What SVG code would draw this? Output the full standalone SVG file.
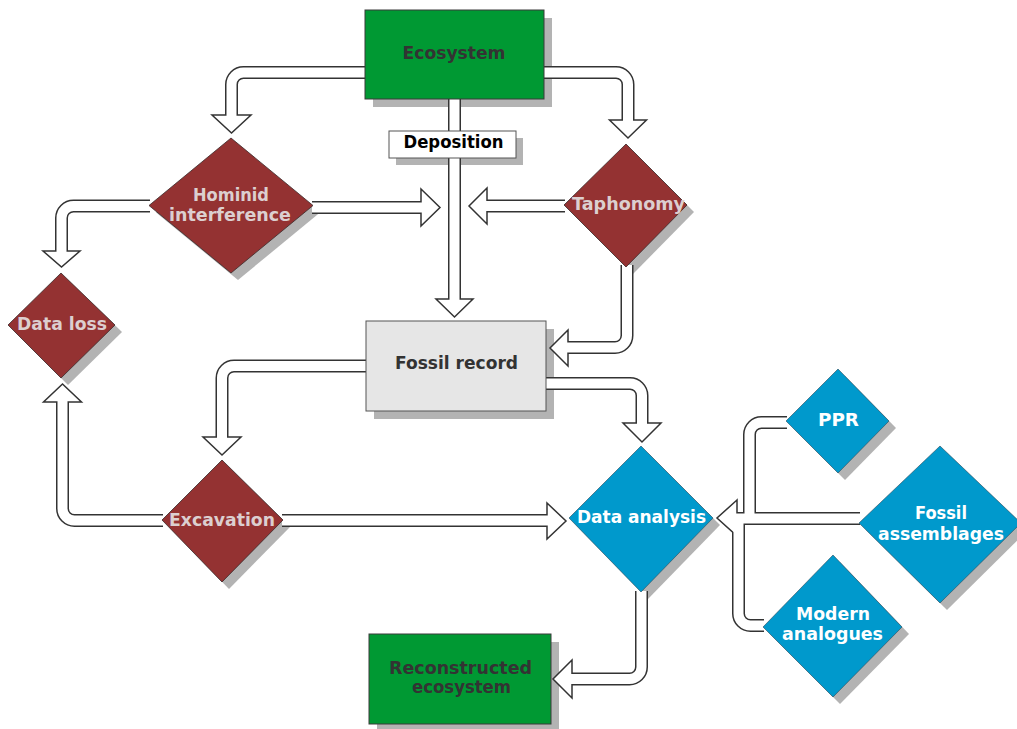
<svg xmlns="http://www.w3.org/2000/svg" width="1017" height="729" viewBox="0 0 1017 729">
<style>
text{font-family:"DejaVu Sans","Liberation Sans",sans-serif;font-weight:bold;font-size:18.5px;text-anchor:middle}
.sh{fill:#b3b3b3}
.grn{fill:#009933;stroke:#3a3a3a;stroke-width:1}
.gry{fill:#e6e6e6;stroke:#555;stroke-width:1}
.red{fill:#943232;stroke:#3a2a2a;stroke-width:0.8}
.blu{fill:#0099cc;stroke:#2a4a5a;stroke-width:0.6}
.dk{fill:#333}
.lt{fill:#dccfd0}
.wt{fill:#fff}
.o{fill:none;stroke:#333;stroke-width:13}
.i{fill:none;stroke:#fff;stroke-width:10}
.h{fill:#fff;stroke:#333;stroke-width:1.5;stroke-linejoin:miter}
</style>
<rect width="1017" height="729" fill="#fff"/>
<g id="shadows">
<rect class="sh" x="373" y="18" width="179" height="89"/>
<rect class="sh" x="396" y="138" width="127" height="27"/>
<rect class="sh" x="374" y="329" width="180" height="90"/>
<rect class="sh" x="377" y="642" width="182" height="90"/>
<polygon class="sh" points="238,145 320,212.5 238,280 156,212.5"/>
<polygon class="sh" points="68,280 122,332 68,385 15,332"/>
<polygon class="sh" points="633,151 694,212 633,274 571,212"/>
<polygon class="sh" points="229,467 290,527 229,589 169,527"/>
<polygon class="sh" points="648,453 720,525 648,599 576,525"/>
<polygon class="sh" points="845,376 896,428 845,480 793,428"/>
<polygon class="sh" points="947,453 1028,530 947,610 866,530"/>
<polygon class="sh" points="840,562 909,634 840,704 770,634"/>
</g>
<g id="connectors">
<path class="o" d="M366,72.5 H243.5 A12,12 0 0 0 231.5,84.5 V115"/>
<path class="o" d="M543,72.5 H616 A12,12 0 0 1 628,84.5 V120"/>
<path class="o" d="M454.5,99 V299"/>
<path class="o" d="M312,207.5 H421"/>
<path class="o" d="M565,206 H487"/>
<path class="o" d="M150,206 H73.5 A12,12 0 0 0 61.5,218 V251"/>
<path class="o" d="M163,520.5 H74.5 A12,12 0 0 1 62.5,508.5 V402"/>
<path class="o" d="M627,265 V335.5 A12,12 0 0 1 615,347.5 H568"/>
<path class="o" d="M367,366 H234 A12,12 0 0 0 222,378 V437"/>
<path class="o" d="M282,520.5 H547"/>
<path class="o" d="M545,383.5 H630 A12,12 0 0 1 642,395.5 V423"/>
<path class="o" d="M641.5,591 V667 A12,12 0 0 1 629.5,679 H572"/>
<path class="o" d="M787,422.5 H761.5 A12,12 0 0 0 749.5,434.5 V514"/>
<path class="o" d="M860,518.5 H736"/>
<path class="o" d="M764,625.5 H750.5 A12,12 0 0 1 738.5,613.5 V522"/>
<polygon class="h" points="212,115 251,115 231.5,133"/>
<polygon class="h" points="609.5,120 646.5,120 628,138"/>
<polygon class="h" points="436,299 473,299 454.5,317"/>
<polygon class="h" points="421,189 440,207.5 421,226"/>
<polygon class="h" points="487,188 469,206 487,224"/>
<polygon class="h" points="43,251 80,251 61.5,267"/>
<polygon class="h" points="43.5,402 81.5,402 62.5,384"/>
<polygon class="h" points="568,330 550,348 568,366"/>
<polygon class="h" points="203,437 241,437 222,455"/>
<polygon class="h" points="547,503 566,521 547,539"/>
<polygon class="h" points="623,423 661,423 642,442"/>
<polygon class="h" points="572,660 553,679 572,698"/>
<polygon class="h" points="737,500 717,518 737,536"/>
<path class="i" d="M366,72.5 H243.5 A12,12 0 0 0 231.5,84.5 V117"/>
<path class="i" d="M543,72.5 H616 A12,12 0 0 1 628,84.5 V122"/>
<path class="i" d="M454.5,99 V301"/>
<path class="i" d="M312,207.5 H423"/>
<path class="i" d="M565,206 H485"/>
<path class="i" d="M150,206 H73.5 A12,12 0 0 0 61.5,218 V253"/>
<path class="i" d="M163,520.5 H74.5 A12,12 0 0 1 62.5,508.5 V400"/>
<path class="i" d="M627,265 V335.5 A12,12 0 0 1 615,347.5 H566"/>
<path class="i" d="M367,366 H234 A12,12 0 0 0 222,378 V439"/>
<path class="i" d="M282,520.5 H549"/>
<path class="i" d="M545,383.5 H630 A12,12 0 0 1 642,395.5 V425"/>
<path class="i" d="M641.5,591 V667 A12,12 0 0 1 629.5,679 H570"/>
<path class="i" d="M787,422.5 H761.5 A12,12 0 0 0 749.5,434.5 V514"/>
<path class="i" d="M860,518.5 H734"/>
<path class="i" d="M764,625.5 H750.5 A12,12 0 0 1 738.5,613.5 V522"/>
</g>
<g id="ecosystem">
<rect class="grn" x="365" y="10" width="179" height="89"/>
<text class="dk" x="454" y="59" textLength="103" lengthAdjust="spacingAndGlyphs">Ecosystem</text>
</g>
<g id="deposition">
<rect x="389" y="131" width="127" height="27" fill="#fff" stroke="#555" stroke-width="1"/>
<text x="453.5" y="148" fill="#000" font-size="17" textLength="100" lengthAdjust="spacingAndGlyphs">Deposition</text>
</g>
<g id="hominid-interference">
<polygon class="red" points="231,138 313,205.5 231,273 149,205.5"/>
<text class="lt" x="231" y="201" textLength="76" lengthAdjust="spacingAndGlyphs">Hominid</text>
<text class="lt" x="230" y="221" textLength="122" lengthAdjust="spacingAndGlyphs">interference</text>
</g>
<g id="taphonomy">
<polygon class="red" points="626,144 687,205 626,267 564,205"/>
<text class="lt" x="628.5" y="210" textLength="113" lengthAdjust="spacingAndGlyphs">Taphonomy</text>
</g>
<g id="data-loss">
<polygon class="red" points="61,273 115,325 61,378 8,325"/>
<text class="lt" x="62" y="330" textLength="90" lengthAdjust="spacingAndGlyphs">Data loss</text>
</g>
<g id="fossil-record">
<rect class="gry" x="366" y="321" width="180" height="90"/>
<text class="dk" x="456.5" y="369" textLength="123" lengthAdjust="spacingAndGlyphs">Fossil record</text>
</g>
<g id="excavation">
<polygon class="red" points="222,460 283,520 222,582 162,520"/>
<text class="lt" x="222" y="526" textLength="106" lengthAdjust="spacingAndGlyphs">Excavation</text>
</g>
<g id="data-analysis">
<polygon class="blu" points="641,446 713,518 641,592 569,518"/>
<text class="wt" x="641.5" y="523" font-size="17" textLength="129" lengthAdjust="spacingAndGlyphs">Data analysis</text>
</g>
<g id="ppr">
<polygon class="blu" points="838,369 889,421 838,473 786,421"/>
<text class="wt" x="838.5" y="426" textLength="41" lengthAdjust="spacingAndGlyphs">PPR</text>
</g>
<g id="fossil-assemblages">
<polygon class="blu" points="940,446 1021,523 940,603 859,523"/>
<text class="wt" x="941" y="519" textLength="52" lengthAdjust="spacingAndGlyphs">Fossil</text>
<text class="wt" x="941" y="540" textLength="126" lengthAdjust="spacingAndGlyphs">assemblages</text>
</g>
<g id="modern-analogues">
<polygon class="blu" points="833,555 902,627 833,697 763,627"/>
<text class="wt" x="833" y="620" textLength="74" lengthAdjust="spacingAndGlyphs">Modern</text>
<text class="wt" x="832.5" y="640" textLength="101" lengthAdjust="spacingAndGlyphs">analogues</text>
</g>
<g id="reconstructed-ecosystem">
<rect class="grn" x="369" y="634" width="182" height="90"/>
<text class="dk" x="460.5" y="674" textLength="143" lengthAdjust="spacingAndGlyphs">Reconstructed</text>
<text class="dk" x="461.5" y="693" textLength="99" lengthAdjust="spacingAndGlyphs">ecosystem</text>
</g>
</svg>
